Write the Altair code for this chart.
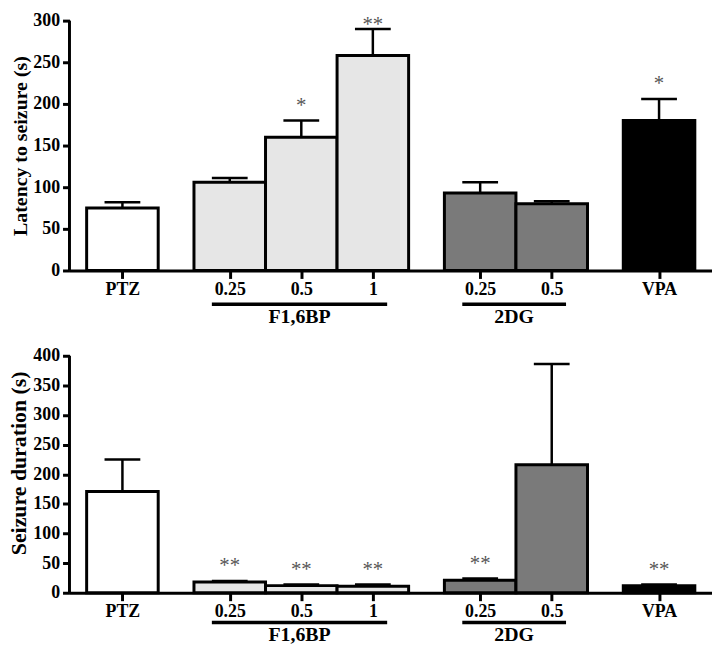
import json
import altair as alt
import pandas as pd

# ---------------- data ----------------
labels = ["PTZ", "0.25", "0.5", "1", "0.25", "0.5", "VPA"]
groups = ["PTZ", "F1,6BP", "F1,6BP", "F1,6BP", "2DG", "2DG", "VPA"]

latency_mean = [75, 106, 160, 258, 93, 80, 180]
latency_sem = [7, 5, 20, 32, 13, 3, 26]
latency_sig = ["", "", "*", "**", "", "", "*"]

duration_mean = [171, 18, 12, 11, 21, 216, 12]
duration_sem = [54, 2, 2, 3, 3, 170, 2]
duration_sig = ["", "**", "**", "**", "**", "", "**"]

underlined_groups = ["F1,6BP", "2DG"]

# ---------------- layout helpers ----------------
# bars of one group touch each other, half a bar of gap between groups
positions = []
for i, g in enumerate(groups):
    if i == 0:
        positions.append(0)
    elif g == groups[i - 1]:
        positions.append(positions[-1] + 1)
    else:
        positions.append(positions[-1] + 1.5)


def key(v):
    return str(int(v)) if float(v).is_integer() else str(v)


label_map = {key(p): l for p, l in zip(positions, labels)}
label_expr = json.dumps(label_map) + "[datum.value]"

FILL = {"PTZ": "#ffffff", "F1,6BP": "#e6e6e6", "2DG": "#7a7a7a", "VPA": "#000000"}
FONT = "Liberation Serif"
XDOMAIN = [-0.74, 8.24]
W = 648


def panel(mean, sem, sig, axis_h, extra_px, ymax, title, title_size,
          under_dy, lab_dy, title_y=None):
    height = axis_h + extra_px
    ppu = axis_h / ymax
    ytop = ymax + extra_px / ppu
    star_cap = ytop - 29 / ppu

    df = pd.DataFrame({
        "label": labels, "group": groups, "x": positions,
        "mean": mean, "sem": sem, "sig": sig,
    })
    df["x0"] = df["x"] - 0.5
    df["x1"] = df["x"] + 0.5
    df["zero"] = 0
    df["hi"] = df["mean"] + df["sem"]
    df["star_y"] = df["hi"].clip(upper=star_cap)
    df["c0"] = df["x"] - 0.25
    df["c1"] = df["x"] + 0.25

    rows = []
    for g in underlined_groups:
        xs = [p for p, gg in zip(positions, groups) if gg == g]
        s, e = min(xs) - 0.25, max(xs) + 0.2
        rows.append({"group": g, "start": s, "end": e, "mid": (s + e) / 2})
    gdf = pd.DataFrame(rows)

    axis_df = pd.DataFrame({"x": [XDOMAIN[0]], "y0": [0], "y1": [ymax]})

    xscale = alt.Scale(domain=XDOMAIN, nice=False, zero=False)
    yscale = alt.Scale(domain=[0, ytop], nice=False)

    xaxis = alt.Axis(
        values=positions, labelExpr=label_expr, title=None, grid=False,
        domainWidth=3, domainColor="black", tickWidth=3, tickSize=8,
        tickColor="black", labelFont=FONT, labelFontWeight="bold",
        labelFontSize=18, labelColor="black", labelPadding=2,
        labelOverlap=False,
    )
    yargs = dict(
        values=list(range(0, ymax + 1, 50)), title=title, grid=False,
        domain=False, tickWidth=3, tickSize=7,
        tickColor="black", labelFont=FONT, labelFontWeight="bold",
        labelFontSize=18, labelColor="black", labelPadding=3,
        titleFont=FONT, titleFontSize=title_size, titleFontWeight="bold",
        titleColor="black", titlePadding=2,
    )
    if title_y is not None:
        yargs["titleY"] = title_y
    else:
        yargs["titleY"] = extra_px + axis_h / 2
    yaxis = alt.Axis(**yargs)

    def X(f):
        return alt.X(f, scale=xscale, axis=xaxis)

    def Y(f):
        return alt.Y(f, scale=yscale, axis=yaxis)

    bars = alt.Chart(df).mark_bar(stroke="black", strokeWidth=3).encode(
        x=X("x0:Q"), x2="x1",
        y=Y("mean:Q"), y2="zero",
        color=alt.Color("group:N",
                        scale=alt.Scale(domain=list(FILL.keys()),
                                        range=list(FILL.values())),
                        legend=None),
    )
    yline = alt.Chart(axis_df).mark_rule(color="black", strokeWidth=3).encode(
        x=X("x:Q"), y=Y("y0:Q"), y2="y1"
    )
    err = alt.Chart(df).mark_rule(color="black", strokeWidth=2.5).encode(
        x=X("x:Q"), y=Y("mean:Q"), y2="hi"
    )
    cap = alt.Chart(df).mark_rule(color="black", strokeWidth=2.5).encode(
        x=X("c0:Q"), x2="c1", y=Y("hi:Q")
    )
    stars = alt.Chart(df).mark_text(
        font=FONT, fontSize=21, color="#555555", baseline="alphabetic", dy=-9
    ).encode(x=X("x:Q"), y=Y("star_y:Q"), text="sig:N")
    under = alt.Chart(gdf).mark_rule(color="black", strokeWidth=3.5).encode(
        x=X("start:Q"), x2="end", y=alt.value(height + under_dy)
    )
    glab = alt.Chart(gdf).mark_text(
        font=FONT, fontSize=20, fontWeight="bold", color="black", baseline="middle"
    ).encode(x=X("mid:Q"), y=alt.value(height + lab_dy), text="group:N")

    return alt.layer(bars, yline, err, cap, stars, under, glab).properties(
        width=W, height=height
    )


top = panel(latency_mean, latency_sem, latency_sig, 252, 10, 300,
            "Latency to seizure (s)", 20, 34, 47)
bottom = panel(duration_mean, duration_sem, duration_sig, 239, 0, 400,
               "Seizure duration (s)", 22, 30, 43, title_y=108)

chart = alt.vconcat(top, bottom, spacing=86, bounds="flush").properties(
    padding={"left": 0, "top": 0, "right": 0, "bottom": 0},
    background="white",
).configure_view(stroke=None)

chart.save("out.html", embed_options={"renderer": "svg", "actions": False})
